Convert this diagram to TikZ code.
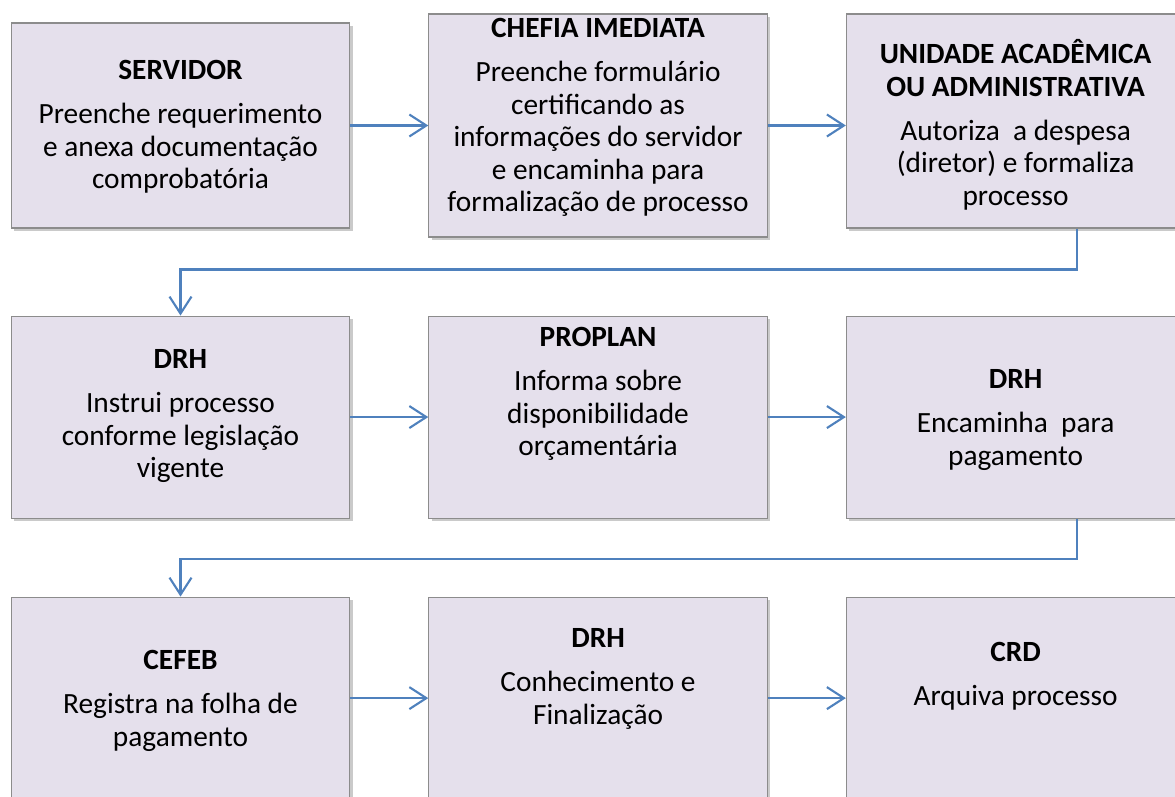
\documentclass[tikz,border=0pt]{standalone}
\usepackage{fontspec}
\setmainfont{Carlito}
\usetikzlibrary{arrows.meta, positioning, calc, shadows}

\definecolor{boxfill}{RGB}{229,224,236}
\definecolor{boxline}{RGB}{140,140,140}
\definecolor{flowblue}{RGB}{79,129,189}

\begin{document}
\begin{tikzpicture}[
    node distance=1.56cm and 1.56cm,
    box/.style={draw=boxline, line width=0.6pt, fill=boxfill, minimum width=6.77cm, minimum height=4.04cm,
        drop shadow={shadow xshift=1.6pt, shadow yshift=-1.6pt, fill=black!60, opacity=0.35}},
    txt/.style={align=center, inner sep=0pt, font=\fontsize{16.7pt}{18.5pt}\selectfont},
    arrow/.style={-{Straight Barb[length=3.4mm, width=4.4mm, line width=1.2pt]}, line width=1.2pt, draw=flowblue}
]
\useasboundingbox (0,0) rectangle (23.5,-15.94);

% Nodes
\node (servidor) [box, minimum height=4.1cm] at (3.61,-2.51) {};
\node (chefia) [box, minimum height=4.46cm, right=of servidor] {};
\node (unidade) [box, minimum height=4.28cm, right=of chefia, yshift=0.09cm] {};
\node (drhA) [box, below=1.74cm of servidor] {};
\node (proplan) [box, right=of drhA] {};
\node (drhB) [box, right=of proplan] {};
\node (cefeb) [box, below=of drhA] {};
\node (drhC) [box, right=of cefeb] {};
\node (crd) [box, right=of drhC] {};

% Texts
\node (servidorT) [txt, below=0.68cm of servidor.north] {\strut\textbf{SERVIDOR}\\[6.5pt]
    Preenche requerimento\\ e anexa documentação\\ comprobatória};
\node (chefiaT) [txt, below=0.02cm of chefia.north] {\strut\textbf{CHEFIA IMEDIATA}\\[6.5pt]
    Preenche formulário\\ certificando as\\ informações do servidor\\ e encaminha para\\ formalização de processo};
\node (unidadeT) [txt, below=0.52cm of unidade.north] {\strut\textbf{UNIDADE ACADÊMICA}\\ \textbf{OU ADMINISTRATIVA}\\[6.5pt]
    Autoriza\ \ a despesa\\ (diretor) e formaliza\\ processo};
\node (drhAT) [txt, below=0.6cm of drhA.north] {\strut\textbf{DRH}\\[6.5pt]
    Instrui processo\\ conforme legislação\\ vigente};
\node (proplanT) [txt, below=0.16cm of proplan.north] {\strut\textbf{PROPLAN}\\[6.5pt]
    Informa sobre\\ disponibilidade\\ orçamentária};
\node (drhBT) [txt, below=1.0cm of drhB.north] {\strut\textbf{DRH}\\[6.5pt]
    Encaminha\ \ para\\ pagamento};
\node (cefebT) [txt, below=1.0cm of cefeb.north] {\strut\textbf{CEFEB}\\[6.5pt]
    Registra na folha de\\ pagamento};
\node (drhCT) [txt, below=0.56cm of drhC.north] {\strut\textbf{DRH}\\[6.5pt]
    Conhecimento e\\ Finalização};
\node (crdT) [txt, below=0.84cm of crd.north] {\strut\textbf{CRD}\\[6.5pt]
    Arquiva processo};

% Arrows
\draw [arrow] (servidor) -- (chefia);
\draw [arrow] (chefia.east) -- (chefia.east -| unidade.west);
\draw [arrow] (drhA) -- (proplan);
\draw [arrow] (proplan) -- (drhB);
\draw [arrow] (cefeb) -- (drhC);
\draw [arrow] (drhC) -- (crd);

% Row changes
\draw [arrow] ($(unidade.south)+(1.23,0)$) -- ++(0,-0.82) -| (drhA.north);
\draw [arrow] ($(drhB.south)+(1.23,0)$) -- ++(0,-0.8) -| (cefeb.north);

\end{tikzpicture}
\end{document}
